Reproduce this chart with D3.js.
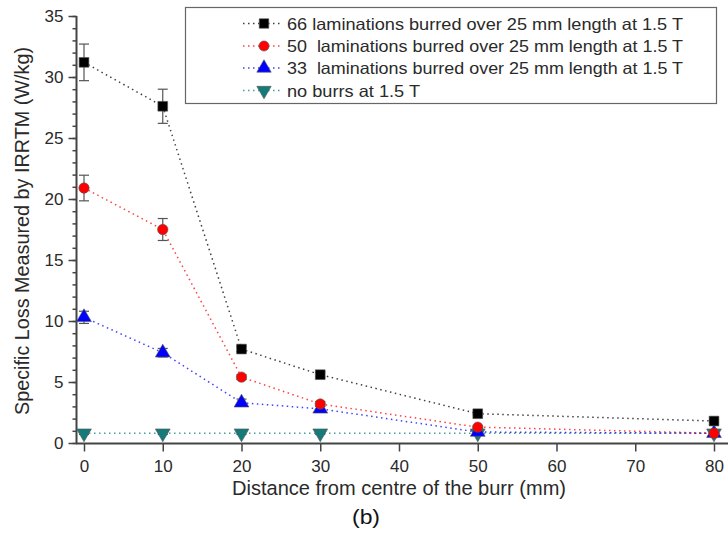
<!DOCTYPE html>
<html><head><meta charset="utf-8">
<script src="https://cdn.jsdelivr.net/npm/d3@7"></script>
<style>
body{margin:0;background:#fff;}
text{font-family:"Liberation Sans",Arial,sans-serif;white-space:pre;}
</style></head>
<body><svg id="c" width="728" height="535"></svg>
<script>
const xValues = [0, 10, 20, 30, 50, 80];
const seriesNames = [
  "66 laminations burred over 25 mm length at 1.5 T",
  "50  laminations burred over 25 mm length at 1.5 T",
  "33  laminations burred over 25 mm length at 1.5 T",
  "no burrs at 1.5 T"
];
const s66 = [31.2, 27.6, 7.7, 5.6, 2.4, 1.8];
const e66 = [1.5, 1.4, 0.2, 0.2, 0.1, 0.1];
const s50 = [20.9, 17.5, 5.4, 3.2, 1.3, 0.8];
const e50 = [1.05, 0.9, 0.2, 0.2, 0.1, 0.1];
const s33 = [10.3, 7.4, 3.3, 2.8, 0.9, 0.8];
const e33 = [0.5, 0.35, 0.3, 0.2, 0.1, 0.1];
const s0 = [0.8, 0.8, 0.8, 0.8, 0.8, 0.8];
const e0 = [0.1, 0.1, 0.1, 0.1, 0.1, 0.1];
const xTicks = [0, 10, 20, 30, 40, 50, 60, 70, 80];
const yTicks = [0, 5, 10, 15, 20, 25, 30, 35];
const colors = ["#000000", "#ff0000", "#0000ff", "#157a7a"];
const symbols = [d3.symbolSquare, d3.symbolCircle, d3.symbolTriangle, "down"];

const series = [
  {name: seriesNames[0], v: s66, e: e66},
  {name: seriesNames[1], v: s50, e: e50},
  {name: seriesNames[2], v: s33, e: e33},
  {name: seriesNames[3], v: s0, e: e0}
];

const svg = d3.select("#c");
const x = d3.scaleLinear().domain([0, 80]).range([84, 714]);
const y = d3.scaleLinear().domain([0, 35]).range([443, 16]);
const axisColor = "#444";
const textColor = "#2a2a2a";

// axes lines
svg.append("line").attr("x1", 76.5).attr("x2", 76.5).attr("y1", y(35)).attr("y2", 443.5)
  .attr("stroke", axisColor).attr("stroke-width", 2);
svg.append("line").attr("x1", 76).attr("x2", 728).attr("y1", 443.5).attr("y2", 443.5)
  .attr("stroke", axisColor).attr("stroke-width", 2);

// y axis
const gy = svg.append("g").attr("transform", "translate(76.5,0)")
  .call(d3.axisLeft(y).tickValues(yTicks).tickSize(8).tickPadding(5));
gy.select(".domain").remove();
gy.selectAll(".tick line").attr("stroke", axisColor).attr("stroke-width", 1.5);
gy.selectAll(".tick text").attr("font-size", 17).attr("fill", textColor)
  .attr("font-family", "Liberation Sans, Arial, sans-serif");
const gym = svg.append("g").attr("transform", "translate(76.5,0)")
  .call(d3.axisLeft(y).ticks(35).tickSize(4).tickFormat(""));
gym.select(".domain").remove();
gym.selectAll(".tick line").attr("stroke", axisColor).attr("stroke-width", 1.5);

// x axis
const gx = svg.append("g").attr("transform", "translate(0,443.5)")
  .call(d3.axisBottom(x).tickValues(xTicks).tickSize(8).tickPadding(8));
gx.select(".domain").remove();
gx.selectAll(".tick line").attr("stroke", axisColor).attr("stroke-width", 1.5);
gx.selectAll(".tick text").attr("font-size", 17).attr("fill", textColor)
  .attr("font-family", "Liberation Sans, Arial, sans-serif");

// axis titles
svg.append("text").attr("transform", "translate(29,231) rotate(-90)")
  .attr("text-anchor", "middle").attr("font-size", 19.5).attr("fill", textColor)
  .attr("textLength", 368).attr("lengthAdjust", "spacingAndGlyphs")
  .text("Specific Loss Measured by IRRTM (W/kg)");
svg.append("text").attr("x", 399).attr("y", 494.5).attr("text-anchor", "middle")
  .attr("font-size", 20.5).attr("fill", textColor)
  .attr("textLength", 334).attr("lengthAdjust", "spacingAndGlyphs")
  .text("Distance from centre of the burr (mm)");
svg.append("text").attr("x", 366).attr("y", 524).attr("text-anchor", "middle")
  .attr("font-size", 20).attr("fill", "#111")
  .attr("textLength", 28).attr("lengthAdjust", "spacingAndGlyphs").text("(b)");

const sizes = [95, 85, 95, 95];
const symFor = i => symbols[i] === "down" ? d3.symbolTriangle : symbols[i];

const line = d3.line().x(d => x(d[0])).y(d => y(d[1]));
// draw series in reverse order so black is on top
[3, 2, 1, 0].forEach(i => {
  const s = series[i];
  const pts = xValues.map((xv, k) => [xv, s.v[k], s.e[k]]);
  svg.append("path").datum(pts).attr("d", line).attr("fill", "none")
    .attr("stroke", colors[i]).attr("stroke-width", 1.5).attr("stroke-dasharray", "1.5,3.5")
    .attr("opacity", 0.75);
  const eb = svg.append("g");
  pts.forEach(p => {
    const cx = x(p[0]), yt = y(p[1] + p[2]), yb = y(p[1] - p[2]);
    eb.append("line").attr("x1", cx).attr("x2", cx).attr("y1", yt).attr("y2", yb)
      .attr("stroke", "#555").attr("stroke-width", 1.2);
    [yt, yb].forEach(yy => eb.append("line").attr("x1", cx - 5).attr("x2", cx + 5)
      .attr("y1", yy).attr("y2", yy).attr("stroke", "#555").attr("stroke-width", 1.2));
  });
  pts.forEach(p => {
    const g = svg.append("g").attr("transform", `translate(${x(p[0])},${y(p[1])})`)
      .attr("fill", colors[i]).attr("stroke", "#555").attr("stroke-width", 0.6);
    const path = g.append("path").attr("d", d3.symbol().type(symFor(i)).size(sizes[i])());
    if (symbols[i] === "down") path.attr("transform", "rotate(180)");
  });
});

// legend
const lg = svg.append("g");
lg.append("rect").attr("x", 185.5).attr("y", 7.5).attr("width", 531).attr("height", 96)
  .attr("fill", "#fff").attr("stroke", "#666").attr("stroke-width", 1.2);
const rowY = [23.5, 46, 68, 90.5];
const legendTextLen = [396, 396, 396, 133];
series.forEach((s, i) => {
  const g = lg.append("g").attr("transform", `translate(0,${rowY[i]})`);
  g.append("line").attr("x1", 243).attr("x2", 283).attr("y1", 0).attr("y2", 0)
    .attr("stroke", colors[i]).attr("stroke-width", 1.5).attr("stroke-dasharray", "1.5,3.5").attr("opacity", 0.75);
  const p = g.append("path").attr("d", d3.symbol().type(symFor(i)).size(sizes[i] * 0.95)())
    .attr("fill", colors[i]).attr("stroke", "#555").attr("stroke-width", 0.6);
  p.attr("transform", symbols[i] === "down" ? "translate(264,0) rotate(180)" : "translate(264,0)");
  g.append("text").attr("x", 287).attr("y", 6).attr("font-size", 16.5).attr("fill", textColor)
    .attr("textLength", legendTextLen[i]).attr("lengthAdjust", "spacingAndGlyphs").text(s.name);
});
</script></body></html>
